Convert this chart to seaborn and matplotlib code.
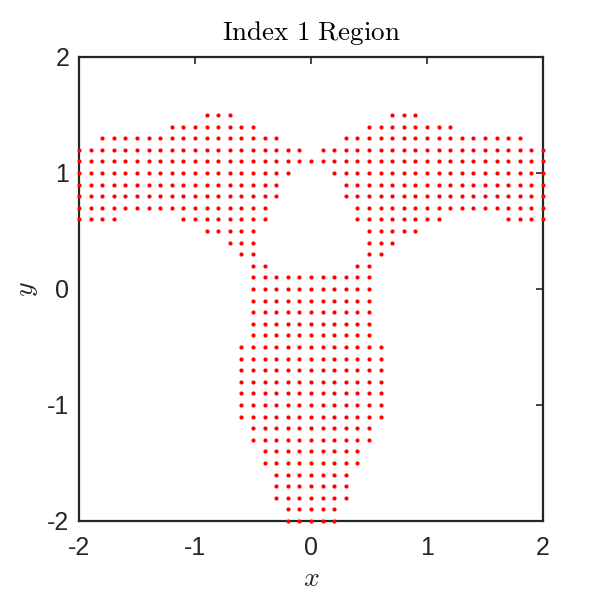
import numpy as np
import pandas as pd
import matplotlib
matplotlib.use("Agg")
import matplotlib.pyplot as plt
import seaborn as sns

# Grid columns: x = -2.0 ... 2.0 step 0.1 (41 columns)
x_grid = np.round(np.linspace(-2.0, 2.0, 41), 1)
# Rows from y = 1.5 down to y = -2.0 (36 rows)
y_rows = np.round(np.linspace(1.5, -2.0, 36), 1)

# 'o' = point of the Index 1 region, '.' = none
region_mask = [
    "...........ooo.............ooo...........",  # 1.5
    "........oooooooo.........oooooooo........",  # 1.4
    "..oooooooooooooooo.....oooooooooooooooo..",  # 1.3
    "oooooooooooooooooooo.oooooooooooooooooooo",  # 1.2
    "ooooooooooooooooooooooooooooooooooooooooo",  # 1.1
    "ooooooooooooooooooo...ooooooooooooooooooo",  # 1.0
    "oooooooooooooooooo.....oooooooooooooooooo",  # 0.9
    "oooooooooooooooooo.....oooooooooooooooooo",  # 0.8
    "ooooooooooooooooo.......ooooooooooooooooo",  # 0.7
    "oooo.....oooooooo.......oooooooo.....oooo",  # 0.6
    "...........ooooo.........ooooo...........",  # 0.5
    ".............ooo.........ooo.............",  # 0.4
    "..............oo.........oo..............",  # 0.3
    "...............oo.......oo...............",  # 0.2
    "...............ooooooooooo...............",  # 0.1
    "...............ooooooooooo...............",  # 0.0
    "...............ooooooooooo...............",  # -0.1
    "...............ooooooooooo...............",  # -0.2
    "...............ooooooooooo...............",  # -0.3
    "...............ooooooooooo...............",  # -0.4
    "..............ooooooooooooo..............",  # -0.5
    "..............ooooooooooooo..............",  # -0.6
    "..............ooooooooooooo..............",  # -0.7
    "..............ooooooooooooo..............",  # -0.8
    "..............ooooooooooooo..............",  # -0.9
    "..............ooooooooooooo..............",  # -1.0
    "..............ooooooooooooo..............",  # -1.1
    "...............ooooooooooo...............",  # -1.2
    "...............ooooooooooo...............",  # -1.3
    "................ooooooooo................",  # -1.4
    "................ooooooooo................",  # -1.5
    ".................ooooooo.................",  # -1.6
    ".................ooooooo.................",  # -1.7
    ".................ooooooo.................",  # -1.8
    "..................ooooo..................",  # -1.9
    "..................ooooo..................",  # -2.0
]

tick_values = [-2, -1, 0, 1, 2]
tick_labels = ["-2", "-1", "0", "1", "2"]
title_text = r"$\mathrm{Index\ 1\ Region}$"

for row in region_mask:
    assert len(row) == 41, (row, len(row))

xs, ys = [], []
for yv, row in zip(y_rows, region_mask):
    for xv, ch in zip(x_grid, row):
        if ch == "o":
            xs.append(xv)
            ys.append(yv)
df = pd.DataFrame({"x": xs, "y": ys})

sns.set_theme(style="white")
plt.rcParams["font.family"] = ["Liberation Sans", "DejaVu Sans"]
plt.rcParams["mathtext.fontset"] = "cm"
plt.rcParams["axes.unicode_minus"] = False

dark = "#262626"
fig = plt.figure(figsize=(6, 6), dpi=100)
ax = fig.add_axes([79 / 600, 79 / 600, 464 / 600, 464 / 600])

sns.scatterplot(data=df, x="x", y="y", color="red", s=9, linewidth=0,
                ax=ax, clip_on=False, zorder=3, legend=False)

ax.set_xlim(-2, 2)
ax.set_ylim(-2, 2)
ax.set_xticks(tick_values)
ax.set_xticklabels(tick_labels)
ax.set_yticks(tick_values)
ax.set_yticklabels(tick_labels)
ax.tick_params(direction="in", top=True, right=True, length=5, width=1.2,
               color=dark, labelcolor=dark, labelsize=18)
ax.tick_params(axis="x", pad=11)
ax.tick_params(axis="y", pad=7)
for sp in ax.spines.values():
    sp.set_color(dark)
    sp.set_linewidth(1.6)
    sp.set_visible(True)

ax.set_title(title_text, fontsize=19.5, color="black", pad=12)
ax.set_xlabel(r"$x$", fontsize=20, color=dark, labelpad=4)
ax.set_ylabel(r"$y$", fontsize=20, color=dark, labelpad=5)

fig.savefig("out.png", dpi=100)
